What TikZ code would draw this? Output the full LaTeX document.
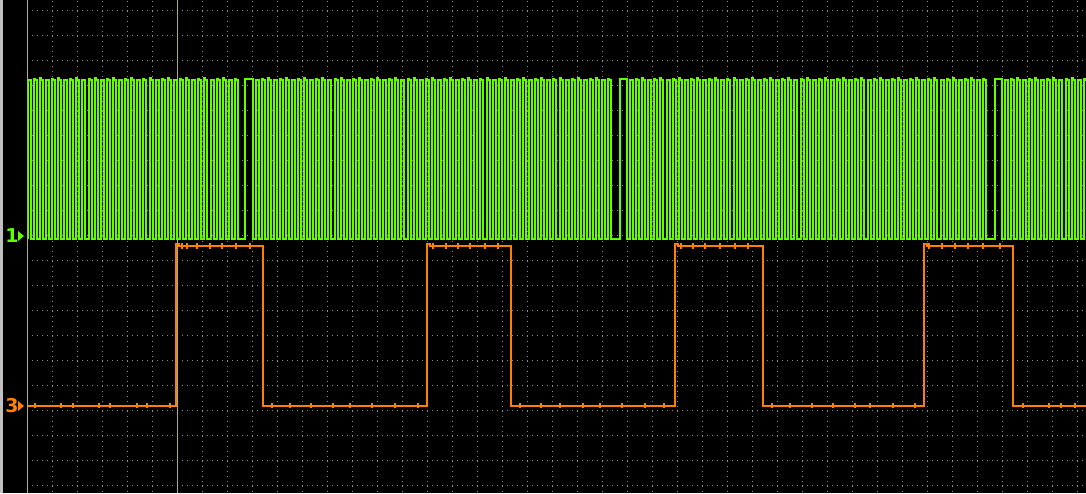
\documentclass[tikz,border=0pt]{standalone}
\usepackage{fontspec}
\setsansfont{DejaVu Sans}
\definecolor{sgreen}{RGB}{96,255,0}
\definecolor{sorange}{RGB}{255,128,0}
\definecolor{dotgray}{RGB}{140,140,140}
\definecolor{leftline}{RGB}{190,180,40}
\definecolor{cursorline}{RGB}{175,170,120}
\definecolor{stripgray}{RGB}{192,192,192}
\begin{document}
\begin{tikzpicture}[x=1pt,y=-1pt,
  griddot/.style={draw=dotgray, line width=1pt, dash pattern=on 1pt off 4pt},
  sigA/.style={draw=sgreen, line width=1.1pt, line join=miter},
  sigB/.style={draw=sorange, line width=2pt, line join=miter},
  tickB/.style={draw=sorange, line width=1.5pt},
  marklabel/.style={font=\sffamily\bfseries\fontsize{19}{19}\selectfont, inner sep=0pt}]
\useasboundingbox (0,0) rectangle (1086,493);
\fill[black] (0,0) rectangle (1086,493);
\fill[stripgray] (0,0) rectangle (2.5,493);
% grid
\foreach \k in {1,...,42} \draw[griddot] ({27.5+25*\k},0.5) -- ({27.5+25*\k},493);
\foreach \k in {0,...,19} \draw[griddot] (32,{10.5+25*\k}) -- (1086,{10.5+25*\k});
% reference lines
\draw[leftline, line width=1.5pt] (27.5,0) -- (27.5,493);
\draw[cursorline, line width=1.5pt] (177.5,0) -- (177.5,493);
\begin{scope}
\clip (27.5,0) rectangle (1086,493);
% channel 1
\draw[sigA] (28,239)
  \foreach \i in {0,...,34} { -- ({floor(28+6.1*\i)},239) -- ({floor(28+6.1*\i)},{80-mod(\i,3)}) -- ({floor(28+6.1*\i)+1},{80-mod(\i,3)}) -- ({floor(28+6.1*\i)+1},80) -- ({floor(28+6.1*\i)+3},80) -- ({floor(28+6.1*\i)+3},239) }
  -- (245,239) -- (245,79) -- (253,79) -- (253,239)
  \foreach \i in {0,...,58} { -- ({floor(256+6.08*\i)},239) -- ({floor(256+6.08*\i)},{80-mod(\i,3)}) -- ({floor(256+6.08*\i)+1},{80-mod(\i,3)}) -- ({floor(256+6.08*\i)+1},80) -- ({floor(256+6.08*\i)+3},80) -- ({floor(256+6.08*\i)+3},239) }
  -- (620,239) -- (620,79) -- (627,79) -- (627,239)
  \foreach \i in {0,...,58} { -- ({floor(630.5+6.09*\i)},239) -- ({floor(630.5+6.09*\i)},{80-mod(\i,3)}) -- ({floor(630.5+6.09*\i)+1},{80-mod(\i,3)}) -- ({floor(630.5+6.09*\i)+1},80) -- ({floor(630.5+6.09*\i)+3},80) -- ({floor(630.5+6.09*\i)+3},239) }
  -- (995,239) -- (995,79) -- (1002,79) -- (1002,239)
  \foreach \i in {0,...,13} { -- ({floor(1005+6.1*\i)},239) -- ({floor(1005+6.1*\i)},{80-mod(\i,3)}) -- ({floor(1005+6.1*\i)+1},{80-mod(\i,3)}) -- ({floor(1005+6.1*\i)+1},80) -- ({floor(1005+6.1*\i)+3},80) -- ({floor(1005+6.1*\i)+3},239) };
% channel 3
\draw[sigB] (27.5,406) -- (176,406) -- (176,244) -- (179,244) -- (179,246) -- (263,246) -- (263,406)
  -- (427,406) -- (427,244) -- (430,244) -- (430,246) -- (511,246) -- (511,406)
  -- (675,406) -- (675,244) -- (678,244) -- (678,246) -- (763,246) -- (763,406)
  -- (924,406) -- (924,244) -- (927,244) -- (927,246) -- (1013,246) -- (1013,406) -- (1086,406);
\foreach \x in {35,61,73,99,110,137,147,170,272,290,311,333,350,372,395,418,520,541,560,583,600,622,645,664,772,790,812,833,855,870,893,915,1023,1049,1061,1075}
  \draw[tickB] (\x,403) -- (\x,408);
\foreach \x in {182,187,197,210,222,236,250,433,446,458,470,485,498,681,693,705,720,735,748,929,942,955,968,983,1000}
  \draw[tickB] (\x,243) -- (\x,248.5);
\end{scope}
% channel markers
\node[marklabel, text=sgreen] (m1) at (12,236) {1};
\fill[sgreen] (18,231) -- (24,236) -- (18,241) -- cycle;
\node[marklabel, text=sorange] (m3) at (12,406) {3};
\fill[sorange] (18,401) -- (24,406) -- (18,411) -- cycle;
\end{tikzpicture}
\end{document}
